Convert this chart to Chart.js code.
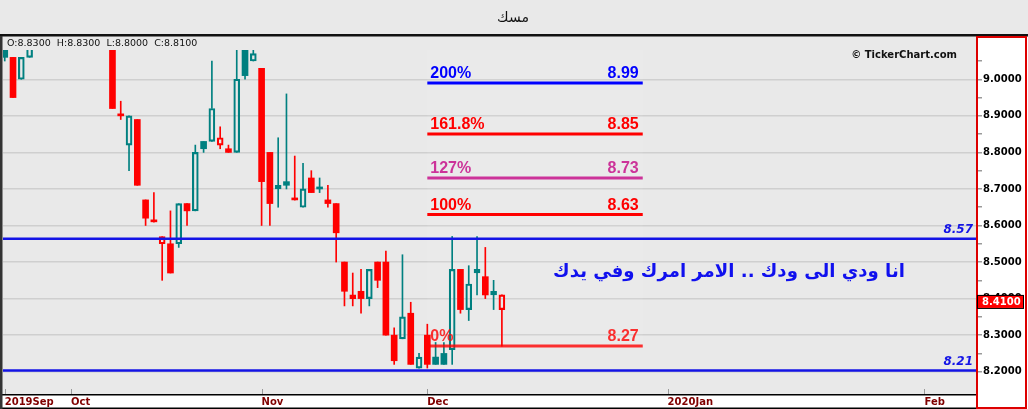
<!DOCTYPE html>
<html>
<head>
<meta charset="utf-8">
<script src="https://cdn.jsdelivr.net/npm/chart.js@4.4.1/dist/chart.umd.min.js"></script>
<style>
  html, body { margin: 0; padding: 0; background: #e9e9e9; }
  canvas { display: block; }
</style>
</head>
<body>
<canvas id="chart1" width="1028" height="409"></canvas>
<script>
// daily candles, index 0 = first visible session (Sep 2019); null = above visible range
const openP  = [9.09, 9.06, 9.00, 9.06, null, null, null, null, null, null, null, null, null,
                9.12, 8.90, 8.82, 8.89, 8.67, 8.61, 8.55, 8.55, 8.55, 8.66, 8.64, 8.83, 8.83, 8.82, 8.81, 8.80,
                9.10, 9.05, 9.03, 8.80, 8.70, 8.72, 8.67, 8.65, 8.73, 8.70, 8.67, 8.66, 8.50, 8.40, 8.42, 8.40,
                8.50, 8.50, 8.30, 8.29, 8.36, 8.21, 8.30, 8.24, 8.25, 8.26, 8.48, 8.37, 8.47, 8.46, 8.41, 8.37];
const highP  = [9.10, 9.06, 9.06, 9.12, null, null, null, null, null, null, null, null, null,
                9.13, 8.94, 8.90, 8.89, 8.67, 8.69, 8.57, 8.64, 8.66, 8.66, 8.82, 8.83, 9.05, 8.87, 8.82, 9.10,
                9.12, 9.10, 9.03, 8.80, 8.84, 8.96, 8.79, 8.77, 8.75, 8.73, 8.71, 8.66, 8.50, 8.47, 8.48, 8.48,
                8.50, 8.53, 8.32, 8.52, 8.39, 8.25, 8.33, 8.28, 8.28, 8.57, 8.48, 8.49, 8.57, 8.54, 8.45, 8.41];
const lowP   = [9.05, 8.95, 9.00, 9.06, null, null, null, null, null, null, null, null, null,
                8.92, 8.89, 8.75, 8.71, 8.60, 8.61, 8.45, 8.47, 8.54, 8.60, 8.64, 8.80, 8.83, 8.81, 8.80, 8.80,
                9.00, 9.05, 8.60, 8.60, 8.65, 8.70, 8.67, 8.65, 8.69, 8.69, 8.65, 8.50, 8.38, 8.38, 8.36, 8.38,
                8.43, 8.30, 8.22, 8.29, 8.22, 8.21, 8.21, 8.22, 8.22, 8.22, 8.36, 8.34, 8.41, 8.40, 8.37, 8.27];
const closeP = [9.06, 8.95, 9.06, 9.10, null, null, null, null, null, null, null, null, null,
                8.92, 8.90, 8.90, 8.71, 8.62, 8.61, 8.57, 8.47, 8.66, 8.64, 8.80, 8.81, 8.92, 8.84, 8.80, 9.00,
                9.01, 9.07, 8.72, 8.66, 8.71, 8.71, 8.67, 8.70, 8.69, 8.70, 8.66, 8.58, 8.42, 8.41, 8.40, 8.48,
                8.45, 8.30, 8.23, 8.35, 8.22, 8.24, 8.22, 8.22, 8.22, 8.48, 8.37, 8.44, 8.48, 8.41, 8.42, 8.41];

const tickIndex = [0, 8, 31, 51, 80, 111];
const tickText  = ['2019Sep', 'Oct', 'Nov', 'Dec', '2020Jan', 'Feb'];

const fibStart  = 51;
const fibEnd    = 77;
const fibLevels = ['200%', '161.8%', '127%', '100%', '0%'];
const fibValues = [8.99, 8.85, 8.73, 8.63, 8.27];
const fibColors = ['#0000ff', '#ff0000', '#cc3399', '#ff0000', 'rgba(255,0,0,0.8)'];

const hLineValues = [8.564, 8.203];
const hLineText   = ['8.57', '8.21'];

const ohlcText  = 'O:8.8300  H:8.8300  L:8.8000  C:8.8100';
const noteText  = 'انا ودي الى ودك .. الامر امرك وفي يدك';
const titleText = 'مسك';

const TEAL = '#008080', RED = '#ff0000';
const X_MIN = -0.21, X_MAX = 117.34;
const Y_MIN = 8.139, Y_MAX = 9.1157;

// derive candle pieces
const body = [], upWick = [], loWick = [], bodyFill = [], bodyLine = [], bodyBW = [], wickCol = [];
let prevClose = null;
openP.forEach((o, i) => {
    if (o === null) return;
    const c = closeP[i], h = highP[i], l = lowP[i];
    const top = Math.max(o, c), bot = Math.min(o, c);
    const col = (prevClose !== null && c < prevClose) ? RED : TEAL;
    const hollow = c > o;
    body.push({ x: i, y: [bot, top] });
    upWick.push({ x: i, y: [top, h] });
    loWick.push({ x: i, y: [l, bot] });
    bodyFill.push(hollow ? 'rgba(0,0,0,0)' : col);
    bodyLine.push(col);
    bodyBW.push(hollow ? 1.5 : 0);
    wickCol.push(col);
    prevClose = c;
});

const isStep = (v, n) => Math.abs(v * n - Math.round(v * n)) < 1e-6;

const lineSets = fibValues.map((v, k) => ({
    type: 'line', data: [{ x: fibStart, y: v }, { x: fibEnd, y: v }],
    borderColor: fibColors[k], borderWidth: 3, pointRadius: 0, order: 0
})).concat(hLineValues.map(v => ({
    type: 'line', data: [{ x: X_MIN, y: v }, { x: X_MAX, y: v }],
    borderColor: '#1414e6', borderWidth: 2.5, pointRadius: 0, order: 0
})));

const decor = {
    id: 'decor',
    beforeDraw(chart) {
        const c = chart.ctx, a = chart.chartArea;
        c.save();
        c.fillStyle = '#e9e9e9';
        c.fillRect(0, 0, chart.width, chart.height);
        c.fillStyle = '#ffffff';
        c.fillRect(a.right, a.top, chart.width - a.right, chart.height - a.top);
        c.fillRect(0, a.bottom, a.right, chart.height - a.bottom);
        c.restore();
    },
    beforeDatasetsDraw(chart) {
        // faint panel behind the fibonacci block
        const c = chart.ctx, xs = chart.scales.x, ys = chart.scales.y;
        const x0 = xs.getPixelForValue(fibStart), x1 = xs.getPixelForValue(fibEnd);
        const y1 = ys.getPixelForValue(fibValues[fibValues.length - 1]);
        c.save();
        c.fillStyle = 'rgba(255,255,255,0.07)';
        c.fillRect(x0, 50, x1 - x0, y1 - 50);
        c.restore();
    },
    afterDraw(chart) {
        const c = chart.ctx, a = chart.chartArea;
        const xs = chart.scales.x, ys = chart.scales.y;
        c.save();
        // info band over top of plot
        c.fillStyle = '#e9e9e9';
        c.fillRect(a.left, a.top, a.width, 13);
        c.fillStyle = '#111';
        c.font = '9.5px "DejaVu Sans"';
        c.textBaseline = 'middle';
        c.textAlign = 'left';
        c.fillText(ohlcText, 7, 43.5);
        c.font = 'bold 10px "DejaVu Sans"';
        c.textAlign = 'right';
        c.fillText('© TickerChart.com', 957, 55.5);

        // header
        c.fillStyle = '#111';
        c.fillRect(0, 34, chart.width, 2.5);
        c.font = '14px "DejaVu Sans"';
        c.textAlign = 'center';
        c.fillText(titleText, 513, 18);

        // fib labels
        c.font = 'bold 16px "Liberation Sans"';
        c.textBaseline = 'alphabetic';
        const fx0 = xs.getPixelForValue(fibStart) + 3, fx1 = xs.getPixelForValue(fibEnd) - 4;
        fibValues.forEach((v, k) => {
            const y = ys.getPixelForValue(v) - 5;
            c.fillStyle = fibColors[k];
            c.textAlign = 'left';
            c.fillText(fibLevels[k], fx0, y);
            c.textAlign = 'right';
            c.fillText(v.toFixed(2), fx1, y);
        });

        // horizontal line labels
        c.font = 'italic bold 12px "DejaVu Sans"';
        c.fillStyle = '#1414e6';
        c.textAlign = 'right';
        hLineValues.forEach((v, k) => {
            c.fillText(hLineText[k], 973, ys.getPixelForValue(v) - 5.5);
        });

        // arabic note
        c.font = 'bold 20px "DejaVu Sans"';
        const w = c.measureText(noteText).width;
        const fs = 20 * 352 / w;
        c.font = 'bold ' + fs.toFixed(2) + 'px "DejaVu Sans"';
        c.fillStyle = '#1010ee';
        c.textAlign = 'center';
        c.textBaseline = 'middle';
        c.direction = 'rtl';
        c.fillText(noteText, 729, 272);
        c.direction = 'ltr';

        // x strip borders and tick marks
        c.fillStyle = '#000';
        c.fillRect(0, a.bottom, a.right, 1.5);
        c.fillRect(0, chart.height - 1.5, a.right, 1.5);
        c.strokeStyle = '#9a9a9a';
        c.lineWidth = 1;
        tickIndex.forEach(t => {
            const x = Math.round(xs.getPixelForValue(t)) + 0.5;
            c.beginPath(); c.moveTo(x, a.bottom - 5); c.lineTo(x, a.bottom); c.stroke();
        });

        // left border
        c.fillStyle = '#333';
        c.fillRect(0, 36, 2.5, chart.height - 36);

        // right axis frame
        c.strokeStyle = '#dd0000';
        c.lineWidth = 2;
        c.strokeRect(a.right, 37, chart.width - a.right - 2, chart.height - 38);

        // last price box
        const last = closeP[closeP.length - 1];
        const py = ys.getPixelForValue(last);
        c.fillStyle = '#ff0000';
        c.fillRect(a.right + 0.5, py, 46, 13);
        c.strokeStyle = '#000';
        c.lineWidth = 1;
        c.strokeRect(a.right + 0.5, py + 0.5, 46, 13);
        c.fillStyle = '#fff';
        c.font = 'bold 10px "DejaVu Sans"';
        c.textAlign = 'left';
        c.textBaseline = 'middle';
        c.fillText(last.toFixed(4), a.right + 5, py + 7);
        c.restore();
    }
};

const chart = new Chart(document.getElementById('chart1'), {
    type: 'bar',
    data: {
        datasets: lineSets.concat([
            { label: 'upper wick', data: upWick, backgroundColor: wickCol, barThickness: 1, grouped: false, order: 3 },
            { label: 'lower wick', data: loWick, backgroundColor: wickCol, barThickness: 1, grouped: false, order: 3 },
            { label: 'body', data: body, backgroundColor: bodyFill, borderColor: bodyLine, borderWidth: bodyBW,
              borderSkipped: false, barThickness: 6, minBarLength: 2, grouped: false, order: 2 }
        ])
    },
    options: {
        responsive: false,
        animation: false,
        layout: { padding: { top: 37, left: 3, right: 0, bottom: 0 } },
        plugins: { legend: { display: false }, tooltip: { enabled: false } },
        scales: {
            x: {
                type: 'linear', min: X_MIN, max: X_MAX, offset: false,
                grid: { display: false, drawTicks: false, offset: false },
                border: { display: false },
                afterBuildTicks: s => { s.ticks = tickIndex.map(v => ({ value: v })); },
                afterFit: s => { s.height = 15; },
                ticks: {
                    autoSkip: false, maxRotation: 0, minRotation: 0, align: 'start', padding: 2,
                    color: '#800000', font: { family: 'DejaVu Sans', size: 10, weight: 'bold' },
                    callback: v => tickText[tickIndex.indexOf(v)]
                }
            },
            y: {
                position: 'right', min: Y_MIN, max: Y_MAX,
                border: { display: false },
                afterFit: s => { s.width = 51; },
                grid: {
                    lineWidth: 1.5, tickLength: 5, drawTicks: true,
                    color: c => (c.tick && isStep(c.tick.value, 10)) ? '#cfcfcf' : 'rgba(0,0,0,0)',
                    tickColor: c => (c.tick && isStep(c.tick.value, 20)) ? '#9a9a9a' : 'rgba(0,0,0,0)'
                },
                ticks: {
                    stepSize: 0.05, maxTicksLimit: 100, padding: 1, color: '#000',
                    font: { family: 'DejaVu Sans', size: 10, weight: 'bold' },
                    callback: v => isStep(v, 10) ? v.toFixed(4) : ''
                }
            }
        }
    },
    plugins: [decor]
});
</script>
</body>
</html>
